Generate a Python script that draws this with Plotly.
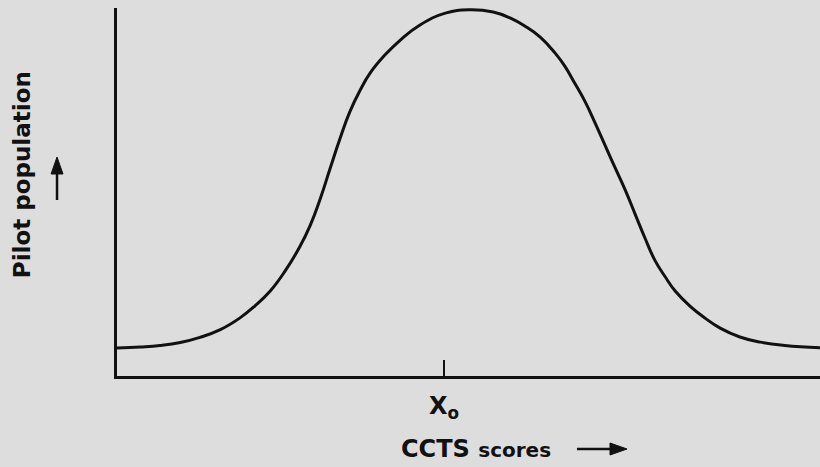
import plotly.graph_objects as go

# CCTS score (arbitrary 0-100 scale) and relative pilot population (0-100)
scores = [0, 3.3, 6.1, 9.0, 11.8, 14.7, 17.5, 19.6, 21.8, 23.9, 26.0, 27.5, 28.9, 30.3,
          31.7, 33.1, 34.6, 36.0, 38.1, 40.3, 43.1, 46.7, 50.1,
          53.5, 55.9, 58.0, 60.2, 62.3, 63.7, 65.1, 66.6, 68.0, 69.4, 70.8, 72.3, 73.7,
          75.1, 76.5, 78.0, 79.4, 81.5, 83.6, 85.8, 88.6, 91.5, 95.0, 100]
population = [7.6, 7.9, 8.3, 9.1, 10.5, 12.6, 15.8, 19.0, 23.1, 28.5, 35.1, 41.0, 48.1, 56.3,
              64.4, 71.7, 77.7, 82.3, 87.2, 91.3, 95.4, 98.6, 99.5,
              98.9, 97.3, 95.1, 92.1, 87.8, 84.2, 79.6, 74.5, 68.8, 62.8, 56.8, 50.5, 44.0,
              37.5, 31.5, 26.9, 23.1, 19.0, 15.8, 13.0, 10.6, 9.2, 8.3, 7.7]
x0_value = [46.5]
x0_label = ["X<sub>o</sub>"]

BG = "#dddddd"
FONT = "DejaVu Sans"
INK = "#111111"

fig = go.Figure()
fig.add_trace(go.Scatter(x=scores, y=population, mode="lines",
                         line=dict(color=INK, width=3, shape="spline", smoothing=1.3),
                         hoverinfo="skip", showlegend=False))

fig.update_layout(
    width=820, height=467,
    margin=dict(l=117, r=0, t=8, b=91),
    paper_bgcolor=BG, plot_bgcolor=BG,
    showlegend=False,
    xaxis=dict(range=[0, 100], showgrid=False, zeroline=False,
               showline=True, linecolor=INK, linewidth=3,
               tickmode="array", tickvals=x0_value, ticktext=x0_label,
               ticks="inside", ticklen=16, tickwidth=2, tickcolor=INK,
               ticklabelstandoff=6,
               tickfont=dict(family=FONT, size=24, color=INK, weight="bold")),
    yaxis=dict(range=[0, 100], showgrid=False, zeroline=False,
               showline=True, linecolor=INK, linewidth=3,
               showticklabels=False, ticks=""),
)

# x-axis title
fig.add_annotation(xref="paper", yref="paper", x=0.511, y=-0.198,
                   text="CCTS <span style='font-size:20px'>scores</span>",
                   showarrow=False, xanchor="center", yanchor="middle",
                   font=dict(family=FONT, size=24, color=INK, weight="bold"))
# y-axis title
fig.add_annotation(xref="paper", yref="paper", x=-0.135, y=0.546,
                   text="Pilot population", textangle=-90,
                   showarrow=False, xanchor="center", yanchor="middle",
                   font=dict(family=FONT, size=23, color=INK, weight="bold"))

# direction arrows (shaft + filled head), in paper coordinates
ay_x = -0.1984
fig.add_shape(type="line", xref="paper", yref="paper", x0=0.6543, x1=0.705, y0=ay_x, y1=ay_x,
              line=dict(color=INK, width=2.5))
fig.add_shape(type="path", xref="paper", yref="paper",
              path=f"M 0.7013 {ay_x + 0.0163} L 0.7255 {ay_x} L 0.7013 {ay_x - 0.0163} Z",
              fillcolor=INK, line=dict(color=INK, width=1))
ax_y = -0.0853
fig.add_shape(type="line", xref="paper", yref="paper", x0=ax_y, x1=ax_y, y0=0.4783, y1=0.565,
              line=dict(color=INK, width=2.5))
fig.add_shape(type="path", xref="paper", yref="paper",
              path=f"M {ax_y - 0.0085} 0.5489 L {ax_y} 0.5951 L {ax_y + 0.0085} 0.5489 Z",
              fillcolor=INK, line=dict(color=INK, width=1))

fig.write_html("out.html", config={"displayModeBar": False},
               post_script="document.body.style.margin='0';"
                           "document.body.style.background='#dddddd';")
